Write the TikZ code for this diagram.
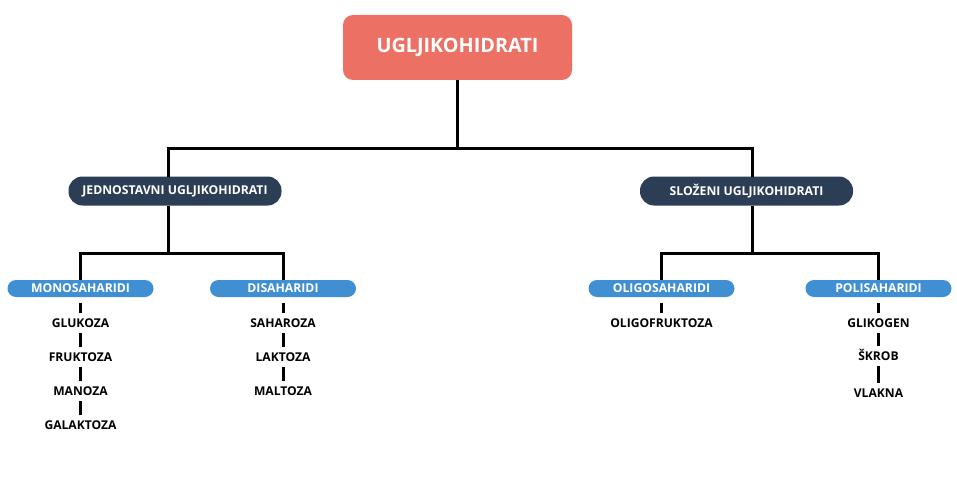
\documentclass[tikz,border=0pt]{standalone}
\usepackage{fontspec}
\setmainfont{Open Sans}
\definecolor{topc}{HTML}{EC7063}
\definecolor{darkc}{HTML}{2C3E55}
\definecolor{bluec}{HTML}{418FD3}
\tikzset{
  conn/.style={line width=3pt, black},
  bar/.style={line width=3pt, black, shorten <=5.5pt, shorten >=5.5pt},
  topbox/.style={fill=topc, rounded corners=10pt, minimum width=229pt, minimum height=65pt, text=white, font=\fontsize{19.8}{24}\selectfont\bfseries},
  darkbox/.style={fill=darkc, rounded corners=14pt, minimum width=213pt, minimum height=29pt, text=white, font=\fontsize{12.2}{14}\selectfont\bfseries, inner sep=0pt},
  bluebox/.style={fill=bluec, rounded corners=8.5pt, minimum width=146pt, minimum height=17pt, text=white, font=\fontsize{12.2}{14}\selectfont\bfseries, inner sep=0pt},
  item/.style={inner sep=0pt, text height=8.7pt, text depth=0pt, font=\fontsize{12.1}{14}\selectfont\bfseries}
}
\begin{document}
\begin{tikzpicture}[x=1pt, y=-1pt]
\useasboundingbox[fill=white] (0,0) rectangle (957,500);
% top
\node[topbox] (top) at (457.5,47.5) {UGLJIKOHIDRATI};
\node[darkbox] (jed) at (175,191) {JEDNOSTAVNI UGLJIKOHIDRATI};
\node[darkbox] (slo) at (746.5,191) {SLOŽENI UGLJIKOHIDRATI};
\coordinate (b1) at (457.5,148);
\coordinate (jin) at (168,176.5);
\coordinate (sin) at (752,176.5);
\coordinate (jout) at (168,205.5);
\coordinate (sout) at (752,205.5);
\draw[conn] (top.south) -- (b1);
\draw[conn] (jin) |- (b1) -| (sin);
% blue
\node[bluebox] (mono) at (80.5,288.5) {MONOSAHARIDI};
\node[bluebox] (dis) at (283,288.5) {DISAHARIDI};
\node[bluebox] (oli) at (661.5,288.5) {OLIGOSAHARIDI};
\node[bluebox] (pol) at (878.5,288.5) {POLISAHARIDI};
\coordinate (b2) at (168,253);
\coordinate (b3) at (752,253);
\draw[conn] (jout) -- (b2);
\draw[conn] (mono.north) |- (b2) -| (dis.north);
\draw[conn] (sout) -- (b3);
\draw[conn] (oli.north) |- (b3) -| (pol.north);
% items
\node[item] (glu) at (80.5,323) {GLUKOZA};
\node[item] (fru) at (80.5,357) {FRUKTOZA};
\node[item] (man) at (80.5,391) {MANOZA};
\node[item] (gal) at (80.5,425) {GALAKTOZA};
\draw[bar] (mono) -- (glu);
\draw[bar] (glu) -- (fru);
\draw[bar] (fru) -- (man);
\draw[bar] (man) -- (gal);
\node[item] (sah) at (283,323) {SAHAROZA};
\node[item] (lak) at (283,357) {LAKTOZA};
\node[item] (mal) at (283,391) {MALTOZA};
\draw[bar] (dis) -- (sah);
\draw[bar] (sah) -- (lak);
\draw[bar] (lak) -- (mal);
\node[item] (olf) at (661.5,323) {OLIGOFRUKTOZA};
\draw[bar] (oli) -- (olf);
\node[item] (gli) at (878.5,323) {GLIKOGEN};
\node[item] (skr) at (878.5,356) {ŠKROB};
\node[item] (vla) at (878.5,393) {VLAKNA};
\draw[bar] (pol) -- (gli);
\draw[bar] (gli) -- (skr);
\draw[bar] (skr) -- (vla);
\end{tikzpicture}
\end{document}
